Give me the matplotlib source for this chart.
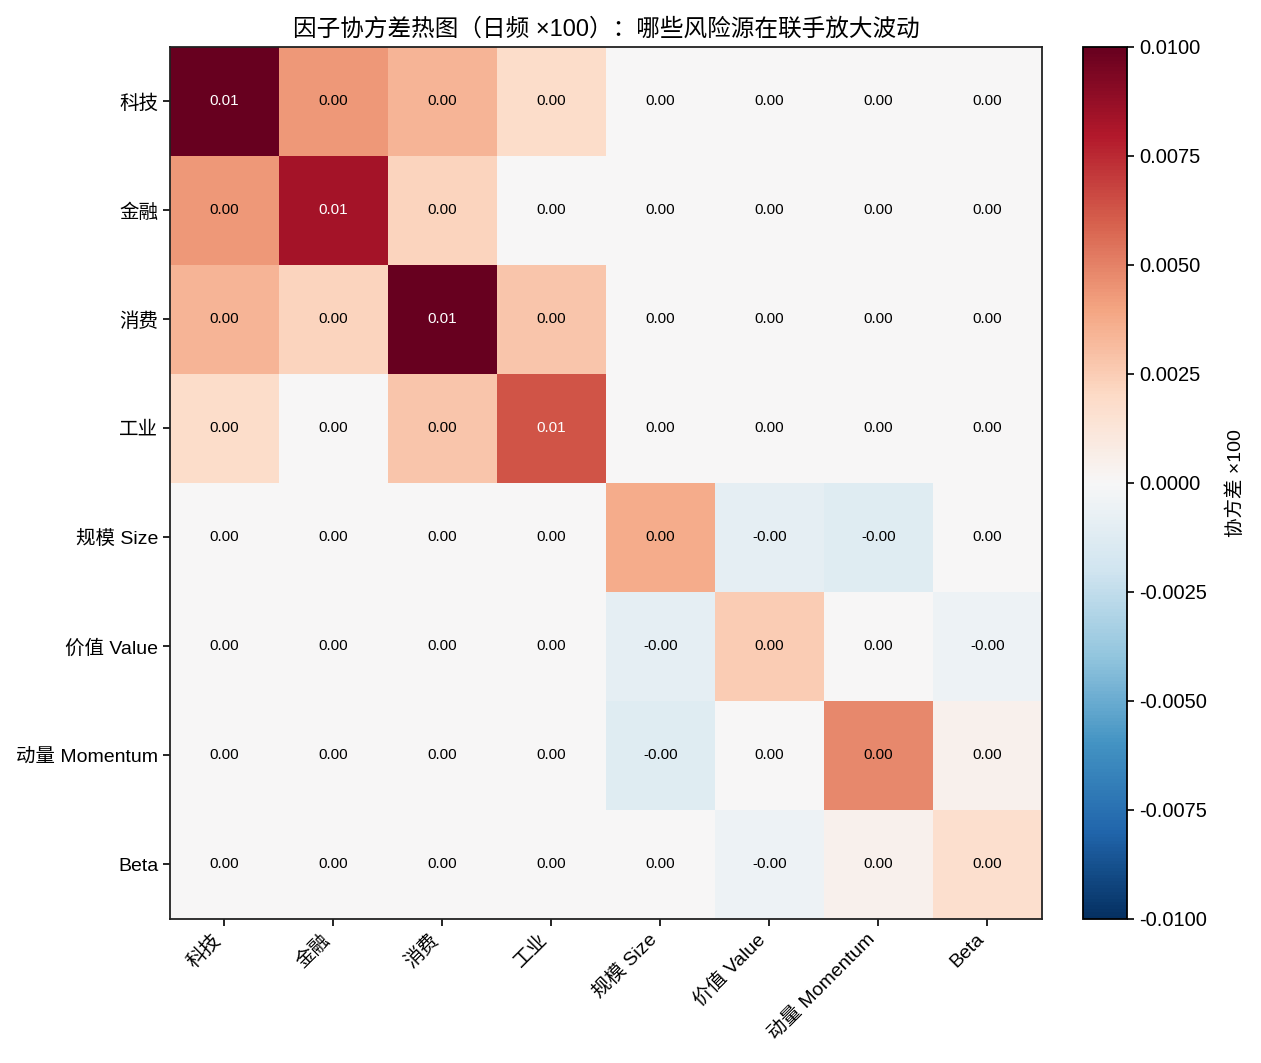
import numpy as np
import matplotlib
matplotlib.use('Agg')
import matplotlib.pyplot as plt

plt.rcParams['font.family'] = ['Liberation Sans', 'Noto Sans CJK SC', 'DejaVu Sans']
plt.rcParams['axes.unicode_minus'] = False

factors = ['科技', '金融', '消费', '工业', '规模 Size', '价值 Value', '动量 Momentum', 'Beta']

# covariance matrix (daily, x100)
row_tech = [0.0105, 0.0043, 0.0034, 0.0018, 0.0, 0.0, 0.0, 0.0]
row_fin = [0.0043, 0.0083, 0.0022, 0.0, 0.0, 0.0, 0.0, 0.0]
row_cons = [0.0034, 0.0022, 0.0110, 0.0028, 0.0, 0.0, 0.0, 0.0]
row_ind = [0.0018, 0.0, 0.0028, 0.0063, 0.0, 0.0, 0.0, 0.0]
row_size = [0.0, 0.0, 0.0, 0.0, 0.0037, -0.0009, -0.0012, 0.0]
row_value = [0.0, 0.0, 0.0, 0.0, -0.0009, 0.0025, 0.0, -0.0005]
row_mom = [0.0, 0.0, 0.0, 0.0, -0.0012, 0.0, 0.0048, 0.0004]
row_beta = [0.0, 0.0, 0.0, 0.0, 0.0, -0.0005, 0.0004, 0.0017]

cov = np.array([row_tech, row_fin, row_cons, row_ind,
                row_size, row_value, row_mom, row_beta])

cb_ticks = [-0.01, -0.0075, -0.005, -0.0025, 0, 0.0025, 0.005, 0.0075, 0.01]

fig = plt.figure(figsize=(12.61, 10.63), dpi=100)
ax = fig.add_axes([0.1348, 0.1355, 0.6915, 0.8203])
cax = fig.add_axes([0.8588, 0.1355, 0.0349, 0.8203])

im = ax.imshow(cov, cmap='RdBu_r', vmin=-0.01, vmax=0.01, aspect='auto')

n = len(factors)
for i in range(n):
    for j in range(n):
        v = cov[i, j]
        color = 'white' if abs(v) > 0.005 else 'black'
        ax.text(j, i, f'{v:.2f}', ha='center', va='center', fontsize=11, color=color)

ax.set_xticks(range(n))
ax.set_yticks(range(n))
ax.set_xticklabels(factors, rotation=45, ha='right', fontsize=14)
ax.set_yticklabels(factors, fontsize=14)
ax.tick_params(length=5, width=1.2)
for s in ax.spines.values():
    s.set_linewidth(1.3)
    s.set_color('#222222')
ax.set_title('因子协方差热图（日频 ×100）：哪些风险源在联手放大波动', fontsize=17, pad=8)

cb = fig.colorbar(im, cax=cax)
cb.set_ticks(cb_ticks)
cb.ax.set_yticklabels([f'{t:.4f}' for t in cb_ticks])
cb.ax.tick_params(labelsize=14.5, length=5, width=1.2)
cb.outline.set_linewidth(1.3)
cb.set_label('协方差 ×100', fontsize=14, labelpad=14)

plt.savefig('out.png', dpi=100)
plt.close()
